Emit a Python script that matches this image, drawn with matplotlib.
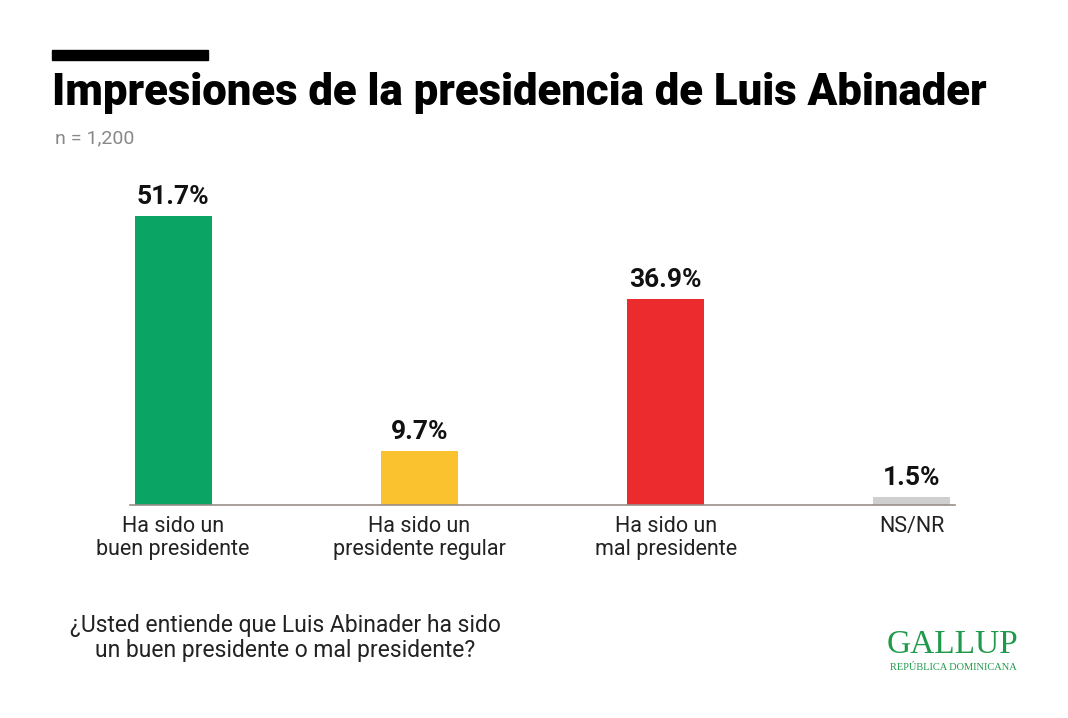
import matplotlib
matplotlib.use("Agg")
import matplotlib.pyplot as plt

categories = ["Ha sido un\nbuen presidente", "Ha sido un\npresidente regular", "Ha sido un\nmal presidente", "NS/NR"]
values = [51.7, 9.7, 36.9, 1.5]
colors = ["#0aa565", "#f9c22e", "#ec2b2e", "#cfcfcf"]

W, H = 1068, 718
fig = plt.figure(figsize=(W/100, H/100), dpi=100)
fig.patch.set_facecolor("white")

ax_l, ax_r, ax_b = 130, 955, 505
ppu = 5.59
ymax = 55
ax = fig.add_axes([ax_l/W, (H-ax_b)/H, (ax_r-ax_l)/W, ymax*ppu/H])
unit = (912-173)/3
x = list(range(len(values)))
ax.bar(x, values, width=77/unit, color=colors)
ax.set_xlim(-(173-ax_l)/unit, 3+(ax_r-912)/unit)
ax.set_ylim(0, ymax)
for s in ["top", "right", "left"]:
    ax.spines[s].set_visible(False)
ax.spines["bottom"].set_color("#9a8f8a")
ax.spines["bottom"].set_linewidth(1.2)
ax.set_yticks([])
ax.set_xticks(x)
ax.set_xticklabels(categories, fontsize=15.5, family="Roboto", color="#222222", linespacing=1.1)
ax.tick_params(axis="x", length=0, pad=8)
for xi, v in zip(x, values):
    ax.text(xi, v + 1.2, f"{v}%", ha="center", va="bottom", fontsize=19, fontweight="bold", family="Roboto", color="#111111")

# decorations
fig.add_artist(plt.Rectangle((52/W, 1-60/H), 156/W, 10/H, color="black", transform=fig.transFigure))
fig.text(52/W, 1-93/H, "Impresiones de la presidencia de Luis Abinader", fontsize=31.5, fontweight="black",
         family="Roboto", va="center", ha="left", color="black")
fig.text(55/W, 1-138/H, "n = 1,200", fontsize=14, color="#888888", family="Roboto", va="center")
fig.text(285/W, 1-638/H, "¿Usted entiende que Luis Abinader ha sido\nun buen presidente o mal presidente?",
         fontsize=16.5, family="Roboto", ha="center", va="center", color="#222222", linespacing=1.15)
fig.text(953/W, 1-645/H, "GALLUP", fontsize=24, family="Liberation Serif", color="#1f9a4a", ha="center", va="center")
fig.text(953/W, 1-667/H, "REPÚBLICA DOMINICANA", fontsize=7.5, family="Liberation Serif", color="#1f9a4a", ha="center", va="center")

fig.savefig("out.png", dpi=100)
